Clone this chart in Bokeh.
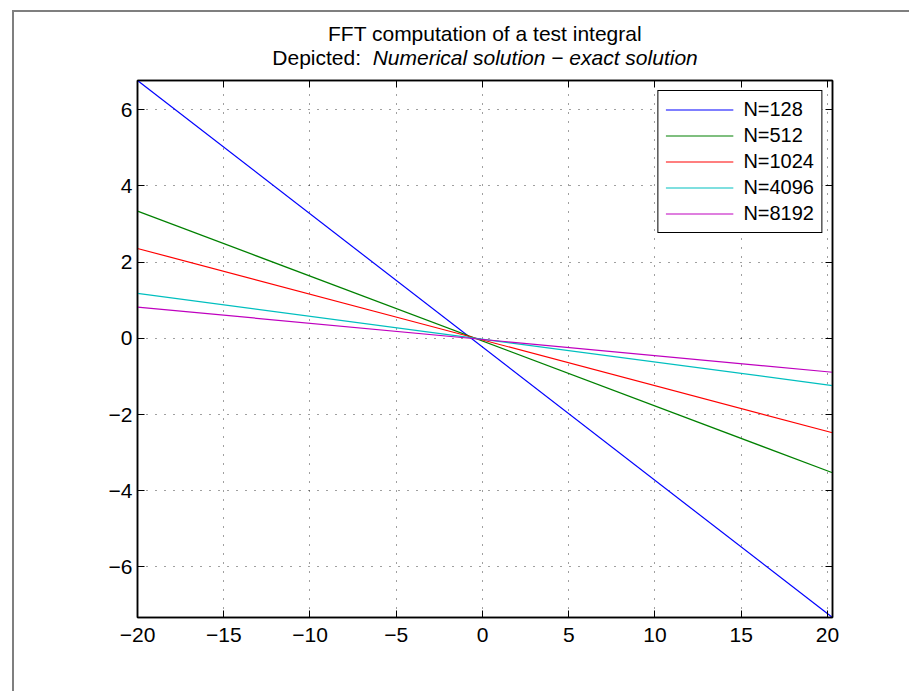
from bokeh.plotting import figure
from bokeh.layouts import column
from bokeh.models import Range1d, LinearAxis, FixedTicker, Legend, LegendItem
from bokeh.core.properties import value
from bokeh.embed import file_html
from bokeh.resources import INLINE

# Grid end points (the error curves are straight lines over the grid)
x_grid = [-20.0, 20.29]

# Numerical solution minus exact solution at the grid end points, per N
err_n128 = [6.77, -7.33]
err_n512 = [3.34, -3.53]
err_n1024 = [2.36, -2.48]
err_n4096 = [1.18, -1.24]
err_n8192 = [0.82, -0.89]

series_labels = ["N=128", "N=512", "N=1024", "N=4096", "N=8192"]
series_colors = ["#0000ff", "#008000", "#ff0000", "#00bfbf", "#bf00bf"]

x_ticks = [-20, -15, -10, -5, 0, 5, 10, 15, 20]
x_tick_labels = ["\u221220", "\u221215", "\u221210", "\u22125", "0", "5", "10", "15", "20"]
y_ticks = [-6, -4, -2, 0, 2, 4, 6]
y_tick_labels = ["\u22126", "\u22124", "\u22122", "0", "2", "4", "6"]

title_line1 = "FFT computation of a test integral"
title_prefix = "Depicted:  "
title_italic = "Numerical solution \u2212 exact solution"

FONT = "Liberation Sans"
TICK_FS = "21px"
TEXT_FS = "20px"
TITLE_FS = 21.0

W = 895          # width of both stacked figures
TITLE_H = 58     # height of the title strip
PLOT_H = 621
B_LEFT, B_RIGHT = 123, 77
FRAME_W = W - B_LEFT - B_RIGHT

all_err = [err_n128, err_n512, err_n1024, err_n4096, err_n8192]
y_lo = min(min(e) for e in all_err)
y_hi = max(max(e) for e in all_err)

# ---- title strip (same horizontal borders as the axes below) ----------
tf = figure(width=W, height=TITLE_H, output_backend="svg", toolbar_location=None,
            x_range=Range1d(0, FRAME_W), y_range=Range1d(0, TITLE_H),
            min_border_left=B_LEFT, min_border_right=B_RIGHT,
            min_border_top=0, min_border_bottom=0,
            border_fill_color="white", outline_line_color=None)
tf.axis.visible = False
tf.grid.visible = False

prefix_w = 4.78 * TITLE_FS      # "Depicted:  " in Helvetica metrics
italic_w = 15.478 * TITLE_FS
cx = FRAME_W / 2
split = cx - (prefix_w + italic_w) / 2 + prefix_w
tfs = "%dpx" % TITLE_FS
tf.text(x=[cx], y=[TITLE_H - 21], text=[title_line1], text_align="center",
        text_baseline="middle", text_font=value(FONT), text_font_size=tfs,
        text_color="black")
tf.text(x=[split], y=[TITLE_H - 45], text=[title_prefix], text_align="right",
        text_baseline="middle", text_font=value(FONT), text_font_size=tfs,
        text_color="black")
tf.text(x=[split], y=[TITLE_H - 45], text=[title_italic], text_align="left",
        text_baseline="middle", text_font=value(FONT), text_font_size=tfs,
        text_font_style="italic", text_color="black")

# ---- main axes ---------------------------------------------------------
p = figure(width=W, height=PLOT_H, output_backend="svg", toolbar_location=None,
           x_range=Range1d(min(x_grid), max(x_grid)),
           y_range=Range1d(y_lo, y_hi),
           min_border_left=B_LEFT, min_border_right=B_RIGHT,
           min_border_top=10, min_border_bottom=74,
           background_fill_color="white", border_fill_color="white")
p.outline_line_color = "black"
p.outline_line_width = 1.5
p.xaxis.visible = False
p.yaxis.visible = False


def style_axis(ax, labels_on, ticks, labels, standoff=9):
    ax.ticker = FixedTicker(ticks=ticks)
    ax.major_label_overrides = {t: l for t, l in zip(ticks, labels)}
    ax.axis_line_color = "black"
    ax.axis_line_width = 1.5
    ax.major_tick_in = 7
    ax.major_tick_out = 0
    ax.major_tick_line_color = "black"
    ax.minor_tick_line_color = None
    ax.major_label_text_font = FONT
    if labels_on:
        ax.major_label_text_font_size = TICK_FS
        ax.major_label_text_color = "black"
        ax.major_label_standoff = standoff
    else:
        ax.major_label_text_font_size = "0px"
        ax.major_label_text_color = None
        ax.major_label_standoff = 0


bottom = LinearAxis()
left = LinearAxis()
top = LinearAxis()
right = LinearAxis()
style_axis(bottom, True, x_ticks, x_tick_labels, 10)
style_axis(top, False, x_ticks, x_tick_labels)
style_axis(left, True, y_ticks, y_tick_labels, 5)
style_axis(right, False, y_ticks, y_tick_labels)
p.add_layout(bottom, "below")
p.add_layout(top, "above")
p.add_layout(left, "left")
p.add_layout(right, "right")

p.xgrid.ticker = FixedTicker(ticks=x_ticks)
p.ygrid.ticker = FixedTicker(ticks=y_ticks)
for g in (p.xgrid, p.ygrid):
    g.grid_line_color = "black"
    g.grid_line_alpha = 0.75
    g.grid_line_dash = "1 8"
    g.grid_line_width = 1

items = []
for lab, col, err in zip(series_labels, series_colors, all_err):
    r = p.line(x_grid, err, line_color=col, line_width=1.2)
    items.append(LegendItem(label=lab, renderers=[r]))

legend = Legend(items=items, location="top_right")
legend.margin = 10
legend.padding = 7
legend.spacing = 3
legend.label_height = 19
legend.glyph_height = 19
legend.glyph_width = 68
legend.label_standoff = 10
legend.label_text_font = FONT
legend.label_text_font_size = TEXT_FS
legend.label_text_color = "black"
legend.border_line_color = "black"
legend.border_line_alpha = 1
legend.border_line_width = 1.5
legend.background_fill_color = "white"
legend.background_fill_alpha = 1
p.add_layout(legend, "center")

page = column(tf, p, spacing=0)
page.margin = (10, 0, 0, 12)
page.styles = {"border-left": "2px solid #7f7f7f", "border-top": "2px solid #7f7f7f"}

open("out.html", "w").write(file_html(page, INLINE))
